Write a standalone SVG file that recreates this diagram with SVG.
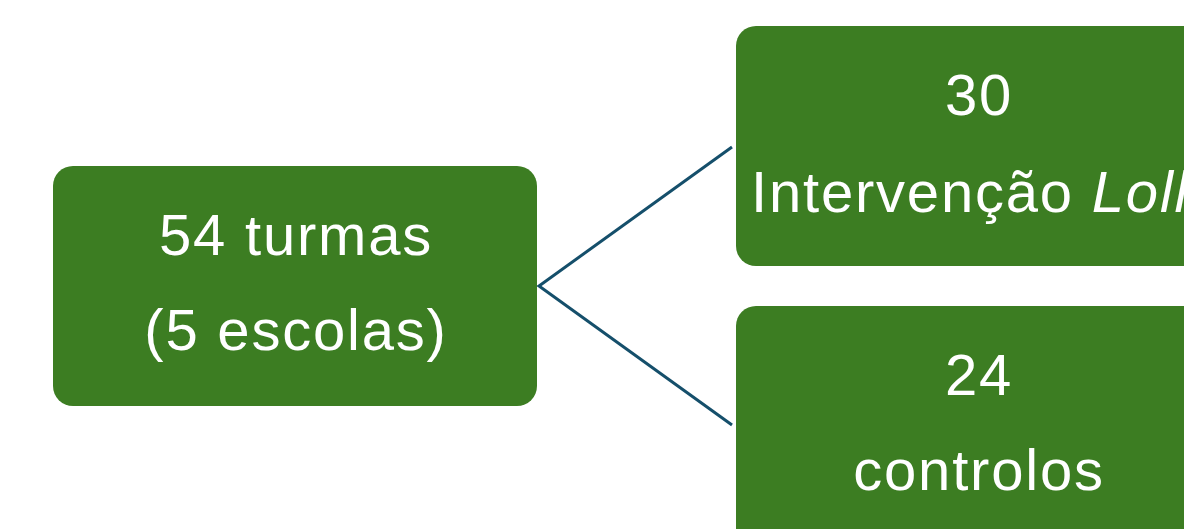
<svg xmlns="http://www.w3.org/2000/svg" width="1184" height="529" viewBox="0 0 1184 529">
<style>
.box{fill:#3C7D22;}
.t{font-family:"Liberation Sans",Arial,sans-serif;font-size:58px;letter-spacing:1.8px;fill:#FFFFFF;}
.c{text-anchor:middle;}
.conn{stroke:#154F6B;stroke-width:3;fill:none;}
</style>
<rect width="1184" height="529" fill="#FFFFFF"/>
<g id="connectors">
<polyline class="conn" points="732,147 539,286 732,425"/>
</g>
<g id="node-root">
<rect class="box" x="53" y="166" width="484" height="240" rx="20" ry="20"/>
<text class="t c" x="296" y="255">54 turmas</text>
<text class="t c" x="296" y="350">(5 escolas)</text>
</g>
<g id="node-intervention">
<rect class="box" x="736" y="26" width="484" height="240" rx="20" ry="20"/>
<text class="t c" x="979" y="115">30</text>
<text class="t" x="751" y="212">Intervenção <tspan font-style="italic">Loll</tspan></text>
</g>
<g id="node-control">
<rect class="box" x="736" y="306" width="484" height="260" rx="20" ry="20"/>
<text class="t c" x="979" y="395">24</text>
<text class="t c" x="979" y="490">controlos</text>
</g>
</svg>
